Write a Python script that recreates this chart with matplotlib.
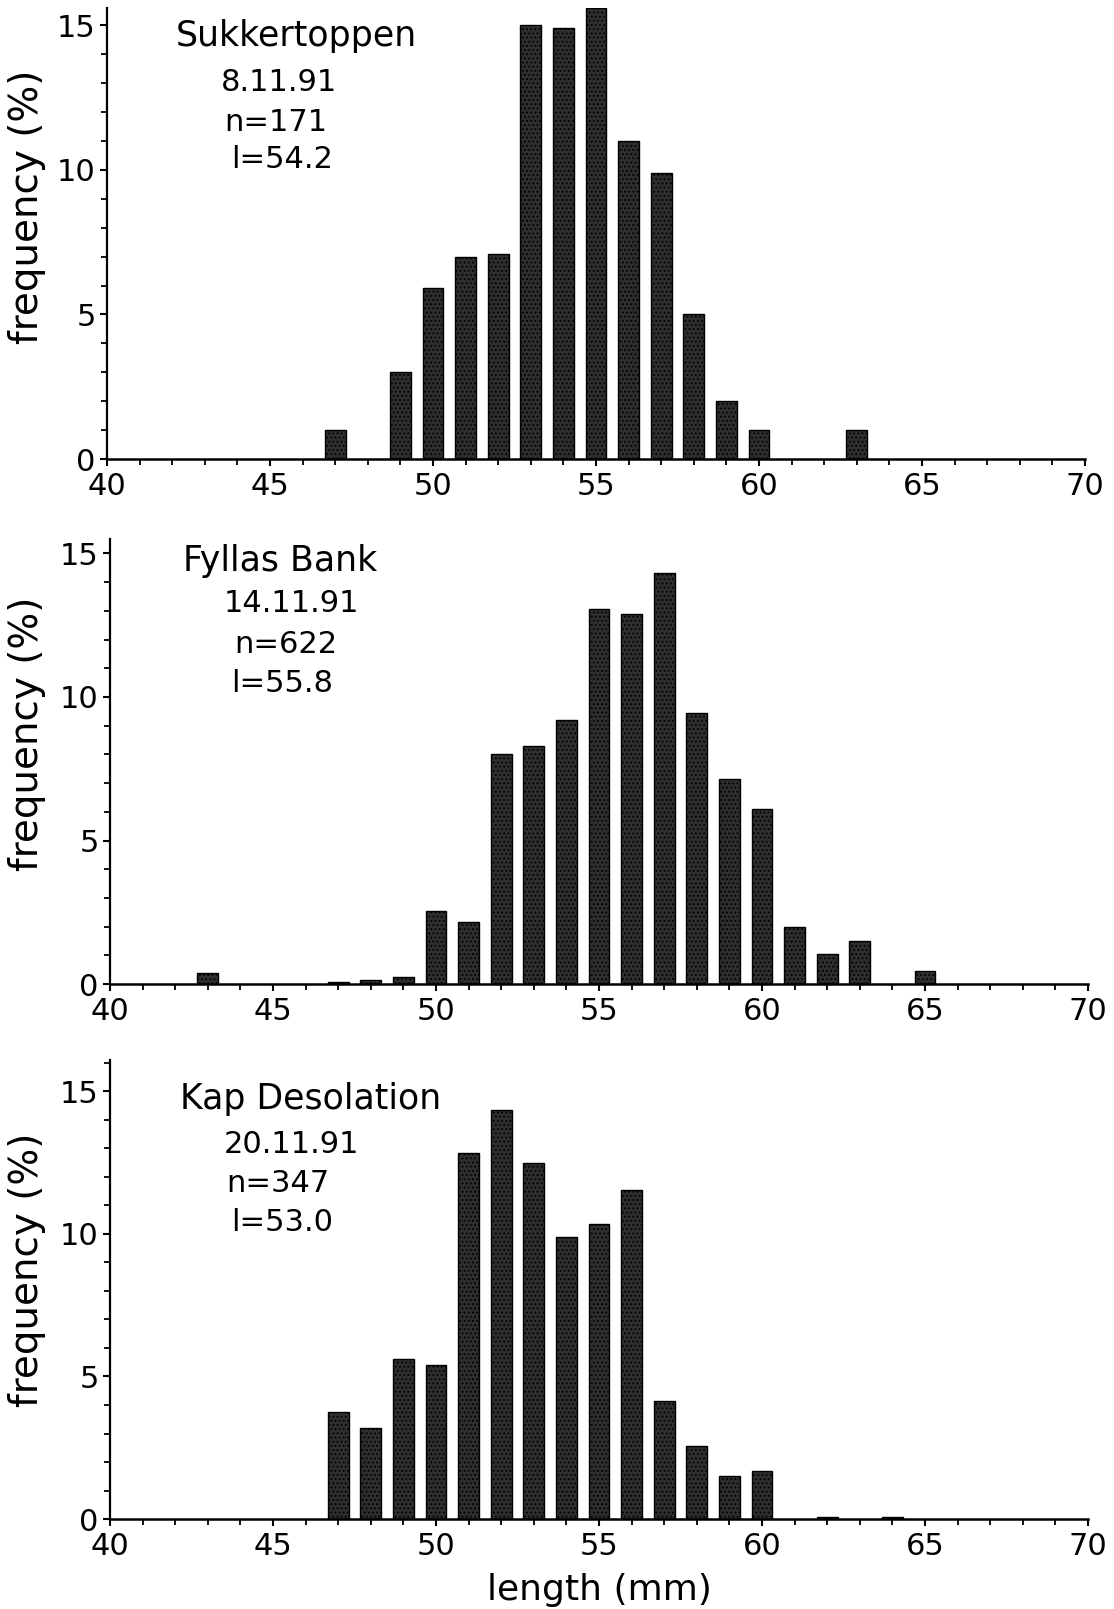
import numpy as np
import matplotlib.pyplot as plt
from matplotlib.ticker import MultipleLocator

# length classes (mm) and frequencies (%)
len_sukkertoppen = [47, 49, 50, 51, 52, 53, 54, 55, 56, 57, 58, 59, 60, 63]
freq_sukkertoppen = [1.0, 3.0, 5.9, 7.0, 7.1, 15.0, 14.9, 15.6, 11.0, 9.9, 5.0, 2.0, 1.0, 1.0]

len_fyllas = [43, 47, 48, 49, 50, 51, 52, 53, 54, 55, 56, 57, 58, 59, 60, 61, 62, 63, 65]
freq_fyllas = [0.4, 0.08, 0.15, 0.25, 2.55, 2.15, 8.0, 8.3, 9.2, 13.05, 12.9, 14.3, 9.45, 7.15, 6.1, 2.0, 1.05, 1.5, 0.45]

len_kap = [47, 48, 49, 50, 51, 52, 53, 54, 55, 56, 57, 58, 59, 60, 62, 64]
freq_kap = [3.75, 3.2, 5.6, 5.4, 12.85, 14.35, 12.5, 9.9, 10.35, 11.55, 4.15, 2.55, 1.5, 1.7, 0.06, 0.06]

station_names = ["Sukkertoppen", "Fyllas Bank", "Kap Desolation"]
station_dates = ["8.11.91", "14.11.91", "20.11.91"]
station_n = ["n=171", "n=622", "n=347"]
station_mean = ["l=54.2", "l=55.8", "l=53.0"]

plt.rcParams['font.family'] = ['DejaVu Sans']
plt.rcParams['hatch.color'] = '#7a7a7a'
plt.rcParams['hatch.linewidth'] = 0.8

fig = plt.figure(figsize=(11.14, 16.09), dpi=100)

# axes boxes [left, bottom, width, height] and upper y limit
boxes = [[0.096, 0.7147, 0.878, 0.2803],
         [0.0987, 0.3884, 0.878, 0.2766],
         [0.0987, 0.0559, 0.878, 0.2853]]
ytops = [15.6, 15.5, 16.1]
# text positions (axes fraction): name (x, y), then x, y of the date, n and mean lines
name_pos = [(0.0706, 0.938), (0.0746, 0.951), (0.0716, 0.915)]
line_x = [(0.1166, 0.1196, 0.127), (0.1166, 0.127, 0.124), (0.1166, 0.1186, 0.124)]
line_y = [(0.834, 0.747, 0.665), (0.856, 0.764, 0.676), (0.815, 0.730, 0.645)]
ylabel_pos = [(-0.062, 0.559), (-0.065, 0.562), (-0.065, 0.542)]

data = [(len_sukkertoppen, freq_sukkertoppen),
        (len_fyllas, freq_fyllas),
        (len_kap, freq_kap)]

for i in range(3):
    ax = fig.add_axes(boxes[i])
    x, y = data[i]
    ax.bar(x, y, width=0.64, color='#2e2e2e', edgecolor='black', linewidth=1.0,
           hatch='....', zorder=2)
    ax.set_xlim(40, 70)
    ax.set_ylim(0, ytops[i])

    ax.spines['top'].set_visible(False)
    ax.spines['right'].set_visible(False)
    ax.spines['left'].set_linewidth(1.6)
    ax.spines['bottom'].set_linewidth(1.8)

    ax.xaxis.set_major_locator(MultipleLocator(5))
    ax.xaxis.set_minor_locator(MultipleLocator(1))
    ax.yaxis.set_major_locator(MultipleLocator(5))
    ax.yaxis.set_minor_locator(MultipleLocator(1))
    ax.tick_params(axis='both', which='major', direction='out', length=5, width=1.5,
                   labelsize=22, color='black')
    ax.tick_params(axis='both', which='minor', direction='out', length=4, width=1.3)
    ax.tick_params(axis='x', which='major', pad=4)
    ax.tick_params(axis='y', which='major', pad=3)

    ax.set_ylabel("frequency (%)", fontsize=28)
    ax.yaxis.set_label_coords(*ylabel_pos[i])

    ax.text(name_pos[i][0], name_pos[i][1], station_names[i], transform=ax.transAxes,
            fontsize=25, ha='left', va='center')
    labels = [station_dates[i], station_n[i], station_mean[i]]
    for k in range(3):
        ax.text(line_x[i][k], line_y[i][k], labels[k], transform=ax.transAxes,
                fontsize=22, ha='left', va='center')

    if i == 2:
        ax.set_xlabel("length (mm)", fontsize=26)
        ax.xaxis.set_label_coords(0.5, -0.118)

fig.savefig("out.png", dpi=100)
